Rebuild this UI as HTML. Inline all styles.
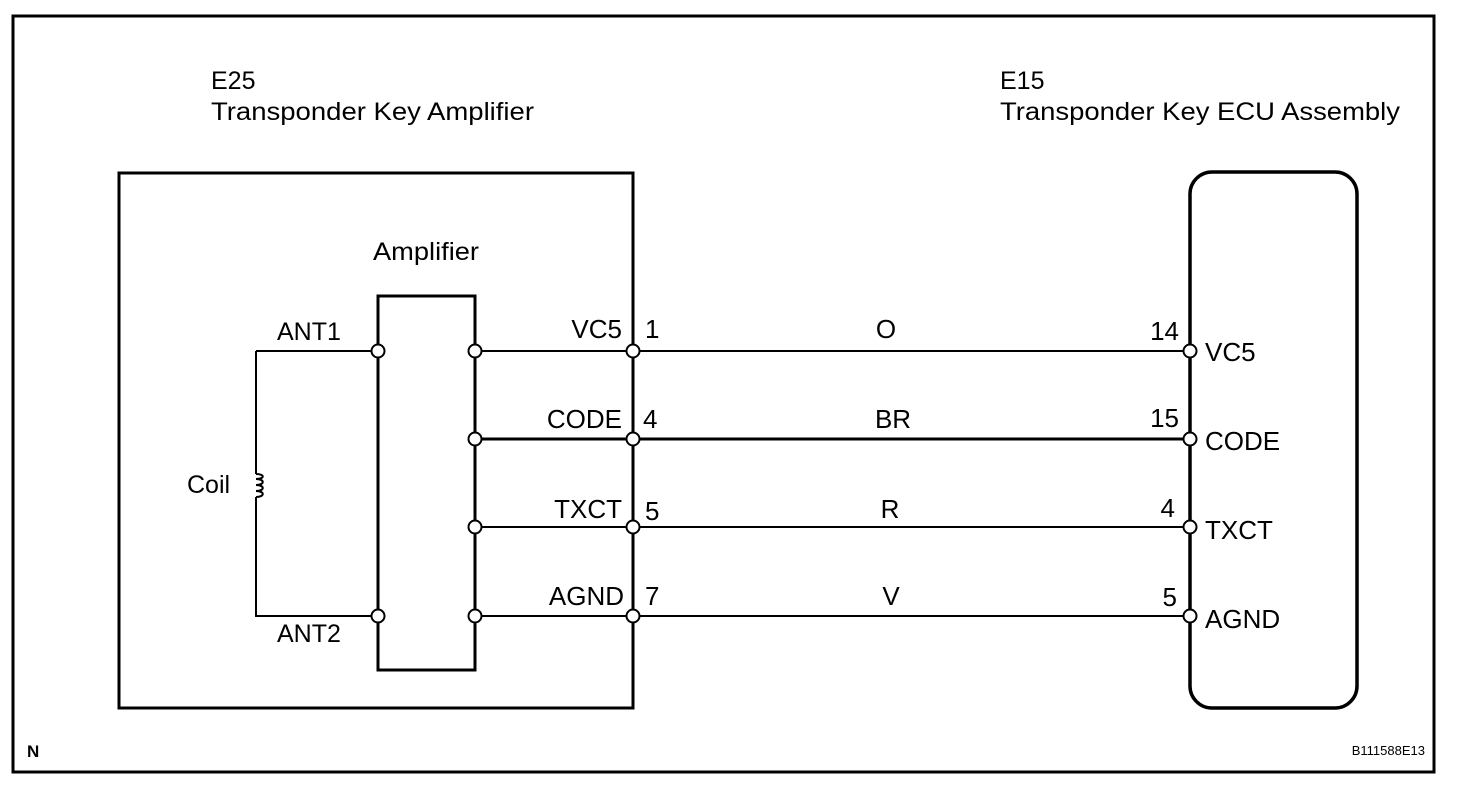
<!DOCTYPE html>
<html><head><meta charset="utf-8"><style>
html,body{margin:0;padding:0;background:#fff;}
svg{display:block;}
text{font-family:"Liberation Sans",sans-serif;fill:#000;}
</style></head><body>
<svg width="1472" height="788" viewBox="0 0 1472 788" xmlns="http://www.w3.org/2000/svg">
<rect x="13" y="16" width="1421" height="756" fill="none" stroke="#000" stroke-width="3"/>
<g font-size="25">
<text x="211" y="89">E25</text>
<text x="211" y="120" textLength="323" lengthAdjust="spacingAndGlyphs">Transponder Key Amplifier</text>
<text x="1000" y="89">E15</text>
<text x="1000" y="120" textLength="400" lengthAdjust="spacingAndGlyphs">Transponder Key ECU Assembly</text>
<text x="373" y="260" textLength="106" lengthAdjust="spacingAndGlyphs">Amplifier</text>
</g>
<rect x="119" y="173" width="514" height="535" fill="none" stroke="#000" stroke-width="3"/>
<rect x="378" y="296" width="97" height="374" fill="none" stroke="#000" stroke-width="3"/>
<rect x="1190" y="172" width="167" height="536" rx="22" ry="22" fill="none" stroke="#000" stroke-width="3.5"/>
<path d="M256 351 H378 M256 351 V474 M256 497 V616 H378" fill="none" stroke="#000" stroke-width="2"/>
<path d="M256 474 c9 0 9 5 0 5 c9 0 9 6 0 6 c9 0 9 6 0 6 c9 0 9 6 0 6" fill="none" stroke="#000" stroke-width="2"/>
<g font-size="25">
<text x="187" y="493">Coil</text>
<text x="277" y="340">ANT1</text>
<text x="277" y="642">ANT2</text>
</g>
<g stroke="#000" fill="none">
<line x1="475" y1="351" x2="1190" y2="351" stroke-width="2"/>
<line x1="475" y1="439" x2="1190" y2="439" stroke-width="3"/>
<line x1="475" y1="527" x2="1190" y2="527" stroke-width="2"/>
<line x1="475" y1="616" x2="1190" y2="616" stroke-width="2"/>
</g>
<g fill="#fff" stroke="#000" stroke-width="2">
<circle cx="378" cy="351" r="6.5"/><circle cx="378" cy="616" r="6.5"/>
<circle cx="475" cy="351" r="6.5"/><circle cx="475" cy="439" r="6.5"/><circle cx="475" cy="527" r="6.5"/><circle cx="475" cy="616" r="6.5"/>
<circle cx="633" cy="351" r="6.5"/><circle cx="633" cy="439" r="6.5"/><circle cx="633" cy="527" r="6.5"/><circle cx="633" cy="616" r="6.5"/>
<circle cx="1190" cy="351" r="6.5"/><circle cx="1190" cy="439" r="6.5"/><circle cx="1190" cy="527" r="6.5"/><circle cx="1190" cy="616" r="6.5"/>
</g>
<g font-size="26">
<text x="622" y="338" text-anchor="end">VC5</text>
<text x="622" y="428" text-anchor="end">CODE</text>
<text x="622" y="518" text-anchor="end">TXCT</text>
<text x="624" y="605" text-anchor="end">AGND</text>
<text x="645" y="338">1</text>
<text x="643" y="428">4</text>
<text x="645" y="520">5</text>
<text x="645" y="605">7</text>
<text x="886" y="338" text-anchor="middle">O</text>
<text x="893" y="428" text-anchor="middle">BR</text>
<text x="890" y="518" text-anchor="middle">R</text>
<text x="891" y="605" text-anchor="middle">V</text>
<text x="1179" y="340" text-anchor="end">14</text>
<text x="1179" y="427" text-anchor="end">15</text>
<text x="1175" y="517" text-anchor="end">4</text>
<text x="1177" y="606" text-anchor="end">5</text>
<text x="1205" y="361">VC5</text>
<text x="1205" y="450">CODE</text>
<text x="1205" y="539">TXCT</text>
<text x="1205" y="628">AGND</text>
</g>
<text x="27" y="757" font-size="17" font-weight="bold">N</text>
<text x="1425" y="755" font-size="13" text-anchor="end">B111588E13</text>
</svg>
</body></html>
